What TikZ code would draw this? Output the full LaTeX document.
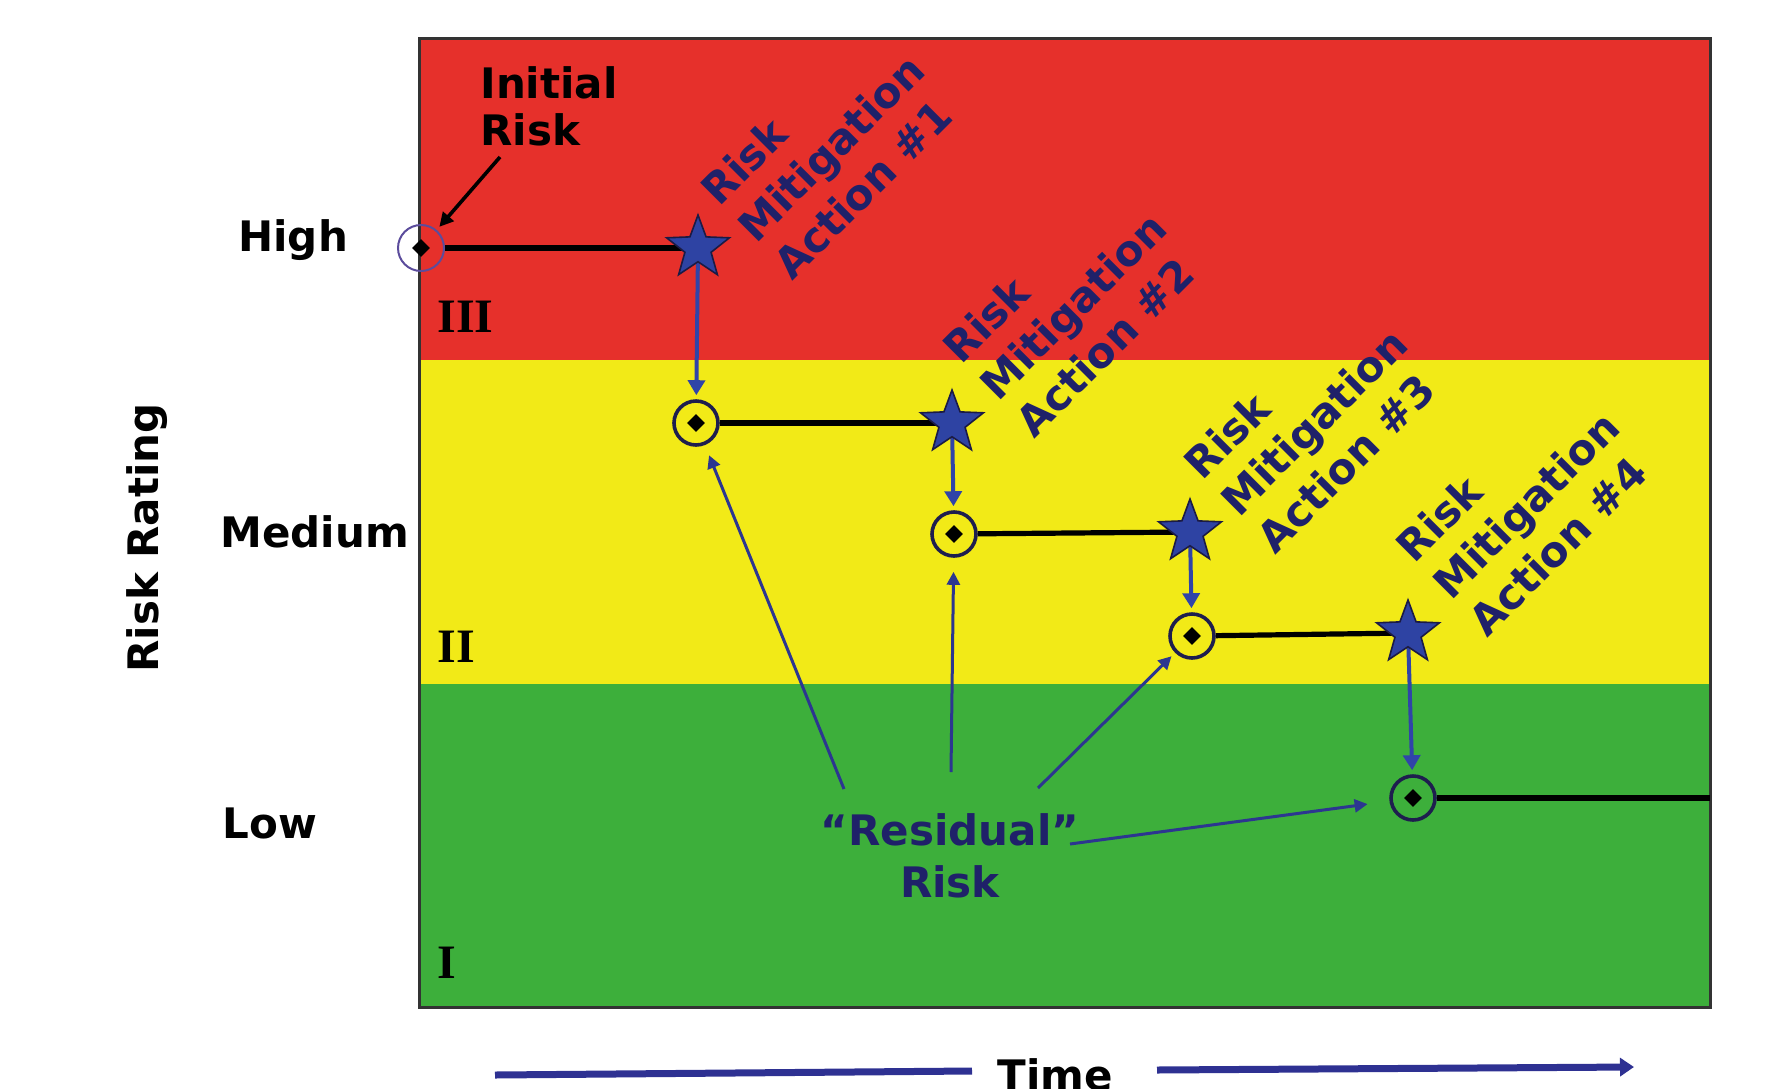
\documentclass[tikz,border=0pt]{standalone}
\usepackage{fontspec}
\setmainfont{DejaVu Sans}
\newfontfamily\romanfont{Liberation Serif}
\usetikzlibrary{shapes.geometric,arrows.meta}
\pgfdeclarelayer{back}
\pgfsetlayers{back,main}
\definecolor{bandred}{HTML}{E6302B}
\definecolor{bandyel}{HTML}{F2EA17}
\definecolor{bandgrn}{HTML}{3DAF3B}
\definecolor{starblue}{HTML}{2E43A3}
\definecolor{stardark}{HTML}{1B1B45}
\definecolor{arrowblue}{HTML}{3044A8}
\definecolor{textnavy}{HTML}{1F2169}
\definecolor{resnavy}{HTML}{2C3690}
\definecolor{timeblue}{HTML}{2E3192}
\definecolor{circnavy}{HTML}{1E1E4E}
\definecolor{initpurple}{HTML}{5B4C9C}
\begin{document}
\begin{tikzpicture}[x=0.5pt,y=-0.5pt,
  lbl/.style={font=\fontsize{21}{26}\selectfont\bfseries, inner sep=0pt, text=black},
  navylbl/.style={lbl, text=textnavy},
  roman/.style={font=\fontsize{24}{28}\selectfont\romanfont\bfseries, inner sep=0pt, anchor=base west},
  diamondpic/.style={path picture={\fill[black] (path picture bounding box.center) ++(0,4.4pt) -- ++(4.4pt,-4.4pt) -- ++(-4.4pt,-4.4pt) -- ++(-4.4pt,4.4pt) -- cycle;}},
  resc/.style={circle, minimum size=22pt, inner sep=0pt, draw=circnavy, line width=1.8pt, diamondpic},
  initc/.style={circle, minimum size=23pt, inner sep=0pt, draw=initpurple, line width=1pt, diamondpic},
  starn/.style={star, star points=5, star point ratio=2.4, minimum size=33pt, inner sep=0pt, fill=starblue, draw=stardark, line width=0.8pt},
  riskline/.style={draw=black, line width=2.6pt},
  droparrow/.style={draw=arrowblue, line width=2pt, -{Triangle[length=7.5pt,width=8.5pt]}, shorten >=2pt},
  resarrow/.style={draw=resnavy, line width=1.5pt, -{Triangle[length=6.5pt,width=6.5pt]}},
  timeline/.style={draw=timeblue, line width=3.5pt}
]
\useasboundingbox (0,0) rectangle (1784,1088);

% colour bands and frame
\begin{pgfonlayer}{back}
\fill[bandred] (419,38) rectangle (1710,360);
\fill[bandyel] (419,360) rectangle (1710,684);
\fill[bandgrn] (419,684) rectangle (1710,1007);
\draw[draw=black!80, line width=1.5pt] (419,38) rectangle (1710,1007);
\end{pgfonlayer}

% axis labels
\node[lbl, rotate=90, anchor=base] (rr) at (158,538) {Risk Rating};
\node[lbl, anchor=base west] (high) at (238,251) {High};
\node[lbl, anchor=base west] (med) at (220,547) {Medium};
\node[lbl, anchor=base west] (low) at (222,838) {Low};
\node[roman] (r3) at (437,332) {III};
\node[roman] (r2) at (437,662) {II};
\node[roman] (r1) at (437,978) {I};

% risk points
\node[initc] (c1) at (421,248) {};
\node[starn] (s1) at (698,248) {};
\node[resc] (c2) at (696,423) {};
\node[starn] (s2) at (952,423) {};
\node[resc] (c3) at (954,534) {};
\node[starn] (s3) at (1190,532) {};
\node[resc] (c4) at (1192,636) {};
\node[starn] (s4) at (1408,633) {};
\node[resc] (c5) at (1413,798) {};
\coordinate (endr) at (1710,798);

% labels
\node[lbl, anchor=base west] (init) at (480,98)
  {\fontsize{21}{23.5}\selectfont\begin{tabular}[t]{@{}l@{}}Initial\\Risk\end{tabular}};
\coordinate (ia) at (500,157);

\node[navylbl, rotate=45, anchor=base west] (m1) at (719,208)
  {\begin{tabular}[t]{@{}l@{}}Risk\\Mitigation\\Action \#1\end{tabular}};
\node[navylbl, rotate=45, anchor=base west] (m2) at (961,366)
  {\begin{tabular}[t]{@{}l@{}}Risk\\Mitigation\\Action \#2\end{tabular}};
\node[navylbl, rotate=45, anchor=base west] (m3) at (1202,482)
  {\begin{tabular}[t]{@{}l@{}}Risk\\Mitigation\\Action \#3\end{tabular}};
\node[navylbl, rotate=45, anchor=base west] (m4) at (1414,565)
  {\begin{tabular}[t]{@{}l@{}}Risk\\Mitigation\\Action \#4\end{tabular}};

\node[navylbl, anchor=base] (res) at (950,845)
  {\begin{tabular}[t]{@{}c@{}}“Residual”\\Risk\end{tabular}};
\coordinate (ra) at (844,789);
\coordinate (rb) at (951,772);
\coordinate (rc) at (1038,788);
\coordinate (rd) at (1070,844);

% time axis
\node[lbl, anchor=base] (time) at (1055,1090) {Time};
\coordinate (ta) at (495,1075);
\coordinate (tb) at (972,1071);
\coordinate (tc) at (1157,1070);
\coordinate (td) at (1634,1067);

% connectors
\begin{pgfonlayer}{back}
\draw[riskline] (c1) -- (s1.center);
\draw[riskline] (c2) -- (s2.center);
\draw[riskline] (c3) -- (s3.center);
\draw[riskline] (c4) -- (s4.center);
\draw[riskline] (c5) -- (endr);
\draw[droparrow] (s1.center) -- (c2);
\draw[droparrow] (s2.center) -- (c3);
\draw[droparrow] (s3.center) -- (c4);
\draw[droparrow] (s4.center) -- (c5);
\end{pgfonlayer}
\draw[draw=black, line width=1.8pt, -{Triangle[length=7pt,width=7pt]}, shorten >=2pt] (ia) -- (c1);
\draw[resarrow, shorten >=5.5pt] (ra) -- (c2);
\draw[resarrow, shorten >=7pt] (rb) -- (c3);
\draw[resarrow, shorten >=2.5pt] (rc) -- (c4);
\draw[resarrow, shorten >=11pt] (rd) -- (c5);
\draw[timeline] (ta) -- (tb);
\draw[timeline, -{Triangle[length=7pt,width=9pt]}] (tc) -- (td);
\end{tikzpicture}
\end{document}
